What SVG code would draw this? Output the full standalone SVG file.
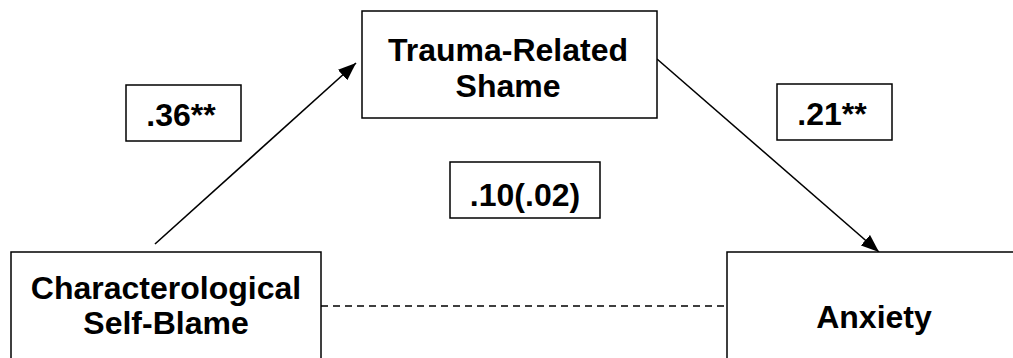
<svg xmlns="http://www.w3.org/2000/svg" width="1013" height="358" viewBox="0 0 1013 358">
<defs>
<marker id="arrow" markerUnits="userSpaceOnUse" markerWidth="18" markerHeight="14" refX="18" refY="7" orient="auto">
<path d="M0,0 L18,7 L0,14 z" fill="#000"/>
</marker>
<style>
.box{fill:#fff;stroke:#000;stroke-width:1.5}
.t{font-family:"Liberation Sans",Arial,sans-serif;font-weight:bold;font-size:32px;fill:#000;text-anchor:middle}
.c{stroke:#000;stroke-width:1.6;fill:none}
</style>
</defs>
<rect width="1013" height="358" fill="#fff"/>
<g id="connectors">
<line class="c" x1="155" y1="244" x2="356" y2="63" marker-end="url(#arrow)"/>
<line class="c" x1="657" y1="59" x2="879" y2="252" marker-end="url(#arrow)"/>
<line class="c" x1="321" y1="306" x2="727" y2="306" stroke-dasharray="7,5"/>
</g>
<g id="shame">
<rect class="box" x="362" y="11" width="295" height="107"/>
<text class="t" x="508" y="61">Trauma-Related</text>
<text class="t" x="508" y="97">Shame</text>
</g>
<g id="selfblame">
<rect class="box" x="11" y="252" width="310" height="120"/>
<text class="t" x="166" y="299">Characterological</text>
<text class="t" x="166" y="334">Self-Blame</text>
</g>
<g id="anxiety">
<rect class="box" x="727" y="252" width="300" height="120"/>
<text class="t" x="874" y="328">Anxiety</text>
</g>
<g id="label-a">
<rect class="box" x="126" y="85" width="115" height="56"/>
<text class="t" x="181" y="126">.36**</text>
</g>
<g id="label-b">
<rect class="box" x="777" y="84" width="115" height="56"/>
<text class="t" x="832" y="125">.21**</text>
</g>
<g id="label-c">
<rect class="box" x="450" y="162" width="150" height="56"/>
<text class="t" x="525" y="206">.10(.02)</text>
</g>
</svg>
